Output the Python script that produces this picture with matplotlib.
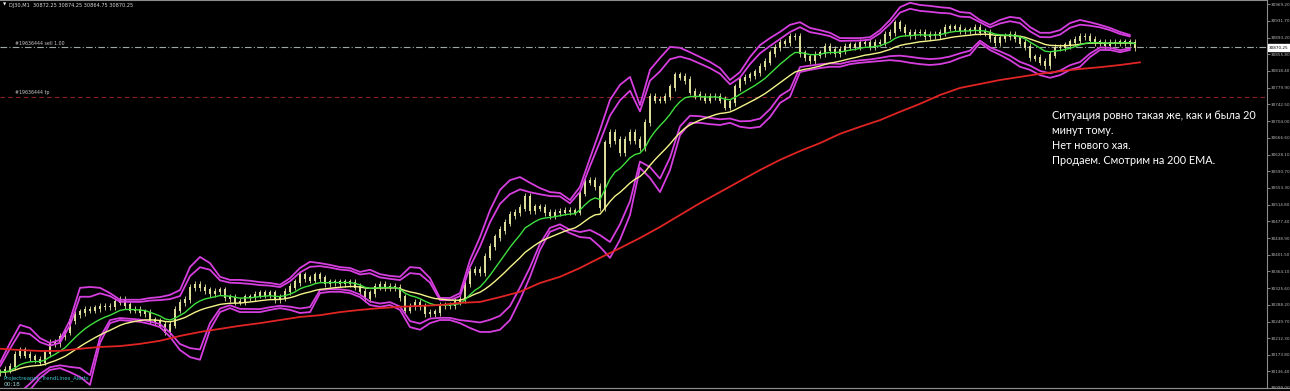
import numpy as np
import pandas as pd
import matplotlib
matplotlib.use("Agg")
import matplotlib.pyplot as plt

# ---------------- data ----------------
# close prices, one value every bar-pair (sampled across the chart)
close = [
    30135, 30140, 30147, 30174, 30185, 30174, 30169, 30163, 30158, 30178,
    30201, 30201, 30215, 30226, 30253, 30265, 30271, 30276, 30276, 30280,
    30283, 30283, 30283, 30294, 30299, 30287, 30276, 30276, 30271, 30269,
    30253, 30249, 30242, 30226, 30242, 30276, 30292, 30299, 30326, 30333,
    30326, 30321, 30314, 30317, 30321, 30305, 30303, 30294, 30294, 30305,
    30305, 30310, 30314, 30310, 30314, 30299, 30305, 30317, 30328, 30339,
    30355, 30348, 30344, 30355, 30348, 30337, 30339, 30339, 30337, 30339,
    30337, 30328, 30317, 30303, 30314, 30328, 30333, 30326, 30328, 30326,
    30305, 30276, 30283, 30292, 30283, 30269, 30269, 30271, 30287, 30287,
    30287, 30294, 30299, 30337, 30362, 30367, 30360, 30396, 30419, 30441,
    30457, 30473, 30491, 30496, 30507, 30532, 30502, 30509, 30507, 30496,
    30491, 30496, 30498, 30502, 30500, 30498, 30541, 30566, 30570, 30555,
    30509, 30654, 30677, 30661, 30632, 30661, 30677, 30661, 30645, 30700,
    30759, 30752, 30752, 30759, 30781, 30808, 30804, 30797, 30770, 30763,
    30759, 30752, 30759, 30759, 30752, 30736, 30747, 30781, 30797, 30802,
    30808, 30815, 30827, 30838, 30858, 30870, 30881, 30883, 30895, 30895,
    30858, 30849, 30842, 30854, 30858, 30872, 30865, 30858, 30865, 30872,
    30876, 30872, 30881, 30881, 30872, 30881, 30881, 30899, 30904, 30926,
    30915, 30904, 30899, 30904, 30904, 30895, 30899, 30899, 30904, 30915,
    30917, 30915, 30910, 30910, 30910, 30915, 30906, 30904, 30892, 30883,
    30892, 30895, 30899, 30892, 30881, 30872, 30849, 30847, 30838, 30831,
    30854, 30870, 30870, 30876, 30883, 30888, 30895, 30895, 30888, 30883,
    30881, 30876, 30881, 30881, 30883, 30883, 30881, 30870.25,
]

# outer Bollinger-type envelope (upper / lower), every second sample
upper_band = [
    30156, 30201, 30242, 30235, 30212, 30201, 30208, 30253, 30326, 30328,
    30326, 30314, 30299, 30299, 30299, 30303, 30305, 30310, 30321, 30373,
    30396, 30382, 30351, 30344, 30344, 30342, 30339, 30337, 30333, 30348,
    30371, 30385, 30382, 30378, 30373, 30371, 30362, 30367, 30357, 30353,
    30351, 30373, 30371, 30348, 30303, 30303, 30314, 30389, 30441, 30502,
    30548, 30570, 30577, 30564, 30552, 30543, 30541, 30525, 30555, 30620,
    30684, 30752, 30786, 30804, 30740, 30820, 30847, 30872, 30870, 30860,
    30849, 30838, 30824, 30797, 30815, 30849, 30876, 30892, 30906, 30922,
    30928, 30915, 30910, 30904, 30892, 30892, 30892, 30894, 30910, 30933,
    30962, 30972, 30967, 30965, 30962, 30960, 30951, 30949, 30933, 30922,
    30933, 30940, 30937, 30917, 30904, 30904, 30910, 30926, 30933, 30928,
    30922, 30915, 30906, 30899,
]
lower_band = [
    30072, 30072, 30072, 30095, 30122, 30140, 30144, 30135, 30124, 30106,
    30201, 30246, 30253, 30251, 30249, 30244, 30237, 30215, 30185, 30169,
    30163, 30231, 30271, 30280, 30271, 30271, 30271, 30276, 30280, 30276,
    30269, 30271, 30314, 30317, 30317, 30314, 30305, 30287, 30283, 30287,
    30276, 30237, 30231, 30246, 30253, 30253, 30246, 30235, 30226, 30226,
    30231, 30253, 30299, 30351, 30412, 30453, 30462, 30450, 30441, 30439,
    30419, 30394, 30435, 30491, 30598, 30575, 30543, 30593, 30672, 30700,
    30700, 30697, 30695, 30700, 30691, 30688, 30691, 30713, 30745, 30759,
    30815, 30820, 30824, 30827, 30827, 30833, 30836, 30838, 30840, 30842,
    30840, 30836, 30833, 30831, 30833, 30838, 30847, 30854, 30881, 30865,
    30854, 30842, 30827, 30820, 30808, 30802, 30808, 30820, 30827, 30849,
    30865, 30865, 30860, 30865,
]

# 200 EMA (red), every fourth sample
ema200 = [
    30188, 30185, 30183, 30183, 30188, 30192, 30194, 30199, 30206, 30217,
    30226, 30233, 30240, 30246, 30253, 30260, 30264, 30271, 30276, 30280,
    30283, 30285, 30287, 30292, 30294, 30305, 30317, 30337, 30351, 30371,
    30394, 30416, 30439, 30464, 30491, 30518, 30543, 30568, 30593, 30616,
    30636, 30654, 30675, 30691, 30706, 30725, 30743, 30763, 30779, 30788,
    30797, 30804, 30811, 30817, 30822, 30826, 30831, 30837,
]

y_ticks = [30969.20, 30931.70, 30893.20, 30855.80, 30818.40, 30779.90,
           30742.50, 30704.00, 30666.60, 30628.10, 30590.70, 30553.30,
           30514.80, 30477.40, 30438.90, 30401.50, 30364.10, 30325.60,
           30288.20, 30249.70, 30212.30, 30173.80, 30136.40, 30099.00]

last_price = 30870.25
sell_price = 30871.5
tp_price = 30759.2
header = "DJ30,M1  30872.25 30874.25 30864.75 30870.25"
sell_label = "#19636444 sell 1.00"
tp_label = "#19636444 tp"
indicator_label = "Projectreaper_TrendLines_Alerts"
timer_label = "00:18"
note = ("Ситуация ровно такая же, как и была 20\n"
        "минут тому.\n"
        "Нет нового хая.\n"
        "Продаем. Смотрим на 200 EMA.")

# ---------------- figure ----------------
W, H = 1290, 391
fig = plt.figure(figsize=(W / 100, H / 100), dpi=100, facecolor="black")
ax_right = 1267
ax_bottom = 388
ax = fig.add_axes([0, (H - ax_bottom) / H, ax_right / W, ax_bottom / H])
ax.set_facecolor("black")

c = np.array(close, dtype=float)
x = np.arange(len(c))
o = np.r_[c[0], c[:-1]]
hi = np.maximum(o, c) + 8
lo = np.minimum(o, c) - 8
candle_col = "#e0e09c"
ax.vlines(x, lo, hi, color=candle_col, lw=0.6, zorder=2)
ax.vlines(x, np.minimum(o, c) - 1.5, np.maximum(o, c) + 1.5, color=candle_col,
          lw=1.4, zorder=2)

# bands
up = np.array(upper_band, dtype=float)
lw_ = np.array(lower_band, dtype=float)
bx = np.arange(len(up)) * 2
mid = (up + lw_) / 2
half = (up - lw_) / 2
mag = "#d63ee0"
for arr in (up, mid + 0.8 * half, mid - 0.8 * half, lw_):
    ax.plot(bx, arr, color=mag, lw=1.3, zorder=3, solid_capstyle="round",
            solid_joinstyle="round")

# moving averages
s = pd.Series(c)
ema_fast = s.ewm(span=10, adjust=False).mean()
ema_slow = s.ewm(span=22, adjust=False).mean()
ax.plot(x, ema_slow, color="#f4f48a", lw=1.0, zorder=4)
ax.plot(x, ema_fast, color="#3ee03e", lw=1.0, zorder=4)
rx = np.arange(len(ema200)) * 4
ax.plot(rx, ema200, color="#e02424", lw=1.3, zorder=4)

# order lines
ax.axhline(sell_price, color="#9aa8a8", lw=0.8, ls=(0, (6, 2, 1, 2)), zorder=1)
ax.axhline(tp_price, color="#8a2020", lw=0.8, ls=(0, (4, 3)), zorder=1)

ax.set_xlim(0, ax_right / 5)
ax.set_ylim(30099.0, 30978.3)
ax.set_xticks([])
ax.yaxis.tick_right()
ax.set_yticks(y_ticks)
ax.set_yticklabels([f"{v:.2f}" for v in y_ticks])
ax.tick_params(axis="y", colors="#b8b8b8", labelsize=3.0, length=2, width=0.5, pad=1.0)
ax.spines["left"].set_visible(False)
for side in ("right", "bottom", "top"):
    ax.spines[side].set_color("#8c8c8c")
    ax.spines[side].set_linewidth(0.8)

# bottom frame line continuing under the price scale
fig.add_artist(plt.Line2D([0, 1], [(H - ax_bottom) / H] * 2, color="#8c8c8c", lw=0.8))

# current price box
ypix = ax.transData.transform((0, last_price))[1]
fig.text((ax_right + 2) / W, ypix / H, f"{last_price:.2f}", fontsize=3.0, color="black",
         va="center", ha="left",
         bbox=dict(boxstyle="square,pad=0.3", fc="white", ec="white"))

# texts
fig.text(3 / W, 1 - 5 / H, "\u25BC", fontsize=3, color="white", va="center", ha="left")
fig.text(9 / W, 1 - 5 / H, header, fontsize=3.6, color="#d8d8d8", va="center", ha="left")
ax.text(3, sell_price + 3, sell_label, fontsize=3.4, color="#c8c8c8", va="bottom", ha="left")
ax.text(3, tp_price + 3, tp_label, fontsize=3.4, color="#c8c8c8", va="bottom", ha="left")
fig.text(4 / W, 1 - 378 / H, indicator_label, fontsize=3.9, color="#3fc0c8", va="center", ha="left")
fig.text(4 / W, 1 - 385 / H, timer_label, fontsize=4.2, color="#9ad0d0", va="center", ha="left")

fig.text(1052 / W, 1 - 110 / H, note, fontsize=7.8, color="white", va="top", ha="left",
         linespacing=1.45, family=["Lato", "DejaVu Sans"])

fig.savefig("out.png", dpi=100, facecolor="black")
